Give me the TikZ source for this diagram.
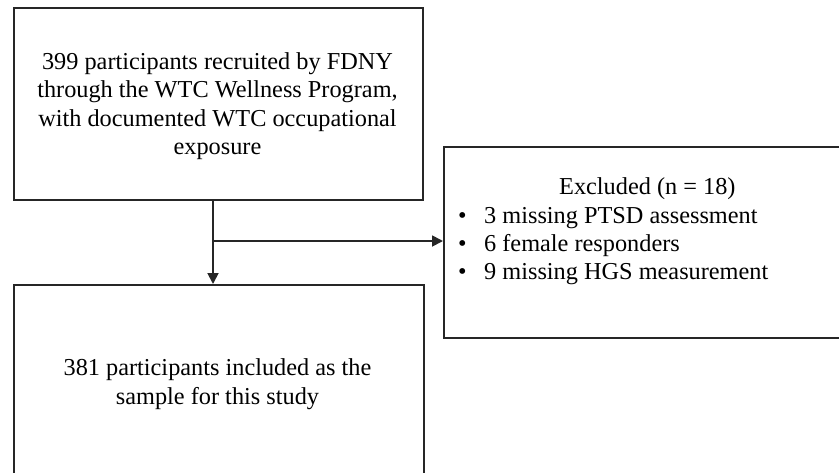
\documentclass[tikz,border=0pt]{standalone}
\usepackage{fontspec}
\setmainfont{Liberation Serif}
\usetikzlibrary{arrows.meta}
\begin{document}
\begin{tikzpicture}[x=1pt,y=-1pt,
  box/.style={draw=black!85, line width=2pt, rectangle, inner sep=0pt, anchor=north west},
  txt/.style={inner sep=0pt, font=\fontsize{24.3}{28.4}\selectfont},
  arr/.style={draw=black!85, line width=1.8pt, -{Triangle[length=11pt,width=11pt]}}]
\useasboundingbox (0,0) rectangle (839,472);
\fill[white] (0,0) rectangle (839,472);
\begin{scope}
\clip (0,0) rectangle (839,472);
\node[box, minimum width=409pt, minimum height=192pt] (top) at (13,7) {};
\node[box, minimum width=410pt, minimum height=200pt] (bot) at (13,284) {};
\node[box, minimum width=410pt, minimum height=191pt] (excl) at (443,146) {};
\end{scope}
\node[txt, align=center] (toptxt) at (217.5,106) {399 participants recruited by FDNY\\through the WTC Wellness Program,\\with documented WTC occupational\\exposure};
\node[txt, align=center] (bottxt) at (217.5,384) {381 participants included as the\\sample for this study};
\node[txt, align=left, anchor=west] (excltxt) at (458,231.5) {\hspace*{101pt}Excluded (n = 18)\\
\makebox[26pt][l]{•}3 missing PTSD assessment\\
\makebox[26pt][l]{•}6 female responders\\
\makebox[26pt][l]{•}9 missing HGS measurement};
\coordinate (j) at (213,241);
\draw[arr] (top.south -| j) -- (bot.north -| j);
\draw[arr] (j) -- (excl.west |- j);
\end{tikzpicture}
\end{document}
